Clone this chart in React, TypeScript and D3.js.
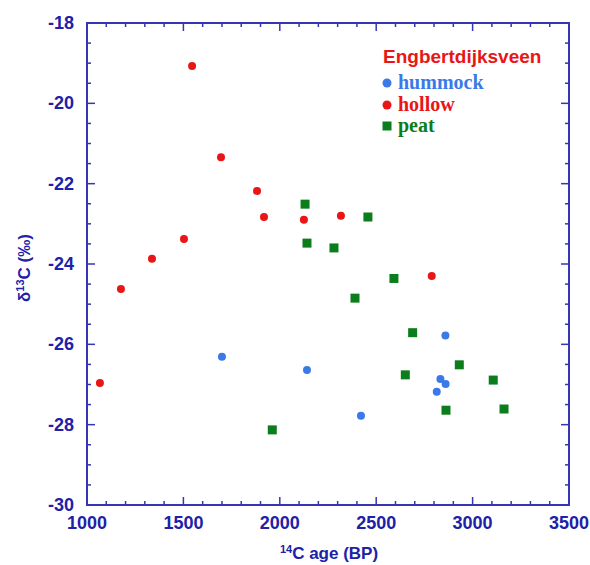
import React from "react";
import * as d3 from "d3";

const hummockAge = [1700, 2141, 2421, 2859, 2833, 2860, 2814];
const hummockD13C = [-26.31, -26.64, -27.78, -25.78, -26.86, -26.99, -27.18];

const hollowAge = [1067, 1176, 1337, 1503, 1545, 1695, 1882, 1918, 2125, 2317, 2788];
const hollowD13C = [-26.96, -24.62, -23.87, -23.38, -19.07, -21.34, -22.18, -22.83, -22.9, -22.8, -24.3];

const peatAge = [2131, 2141, 2281, 2457, 2390, 2592, 2689, 2651, 2931, 3107, 2862, 3163, 1961];
const peatD13C = [-22.51, -23.48, -23.6, -22.83, -24.85, -24.36, -25.71, -26.76, -26.51, -26.89, -27.64, -27.61, -28.13];

const xTicks = [1000, 1500, 2000, 2500, 3000, 3500];
const yTicks = [-18, -20, -22, -24, -26, -28, -30];

const W = 590, H = 565;
const L = 87, R = 569, T = 23, B = 505;
const axisColor = "#3535b5";
const labelColor = "#2020a8";
const red = "#e81616";
const blue = "#3a7ae8";
const green = "#0c7d1c";

export default function App() {
  const x = d3.scaleLinear().domain([1000, 3500]).range([L, R]);
  const y = d3.scaleLinear().domain([-30, -18]).range([B, T]);
  const xMinor = d3.range(1000, 3501, 100);
  const yMinor = d3.range(-30, -17.9, 0.5);
  const font = "Arial, 'Liberation Sans', sans-serif";
  const serif = "'Liberation Serif', 'DejaVu Serif', serif";

  return (
    <svg width={W} height={H} style={{ position: "absolute", left: 0, top: 0, background: "#fff" }}>
      <rect x={0} y={0} width={W} height={H} fill="#fff" />
      {xMinor.map((v, i) => {
        const major = Math.round(v) % 500 === 0;
        const len = major ? 8 : 4;
        return (
          <g key={"xt" + i} stroke={axisColor} strokeWidth={1.5}>
            <line x1={x(v)} x2={x(v)} y1={B} y2={B - len} />
            <line x1={x(v)} x2={x(v)} y1={T} y2={T + len} />
          </g>
        );
      })}
      {yMinor.map((v, i) => {
        const major = Math.abs(Math.round(v) - v) < 1e-6 && Math.round(v) % 2 === 0;
        const len = major ? 8 : 4;
        return (
          <g key={"yt" + i} stroke={axisColor} strokeWidth={1.5}>
            <line x1={L} x2={L + len} y1={y(v)} y2={y(v)} />
            <line x1={R} x2={R - len} y1={y(v)} y2={y(v)} />
          </g>
        );
      })}
      <rect x={L} y={T} width={R - L} height={B - T} fill="none" stroke={axisColor} strokeWidth={2} />
      {xTicks.map((v) => (
        <text key={"xl" + v} x={x(v)} y={B + 24} textAnchor="middle" fontFamily={font} fontWeight="bold" fontSize={18} fill={labelColor}>
          {v}
        </text>
      ))}
      {yTicks.map((v) => (
        <text key={"yl" + v} x={L - 13} y={y(v) + 6} textAnchor="end" fontFamily={font} fontWeight="bold" fontSize={18} fill={labelColor}>
          {v}
        </text>
      ))}
      <text x={329} y={559} textAnchor="middle" fontFamily={font} fontWeight="bold" fontSize={17} fill={labelColor}>
        <tspan fontSize={11} dy={-6}>14</tspan>
        <tspan dy={6}>C age (BP)</tspan>
      </text>
      <text transform={`translate(30,268) rotate(-90)`} textAnchor="middle" fontFamily={font} fontWeight="bold" fontSize={17} fill={labelColor}>
        <tspan>δ</tspan>
        <tspan fontSize={11} dy={-6}>13</tspan>
        <tspan dy={6}>C (‰)</tspan>
      </text>
      {hollowAge.map((a, i) => (
        <circle key={"ho" + i} cx={x(a)} cy={y(hollowD13C[i])} r={4} fill={red} />
      ))}
      {hummockAge.map((a, i) => (
        <circle key={"hu" + i} cx={x(a)} cy={y(hummockD13C[i])} r={4} fill={blue} />
      ))}
      {peatAge.map((a, i) => (
        <rect key={"pe" + i} x={x(a) - 4.5} y={y(peatD13C[i]) - 4.5} width={9} height={9} fill={green} />
      ))}
      <text x={383} y={63} fontFamily={font} fontWeight="bold" fontSize={19} fill={red}>Engbertdijksveen</text>
      <circle cx={387} cy={83} r={4.5} fill={blue} />
      <text x={398} y={89} fontFamily={serif} fontWeight="bold" fontSize={20} fill={blue}>hummock</text>
      <circle cx={387} cy={105} r={4.5} fill={red} />
      <text x={398} y={111} fontFamily={serif} fontWeight="bold" fontSize={20} fill={red}>hollow</text>
      <rect x={382.5} y={121.5} width={9} height={9} fill={green} />
      <text x={398} y={132} fontFamily={serif} fontWeight="bold" fontSize={20} fill={green}>peat</text>
    </svg>
  );
}
